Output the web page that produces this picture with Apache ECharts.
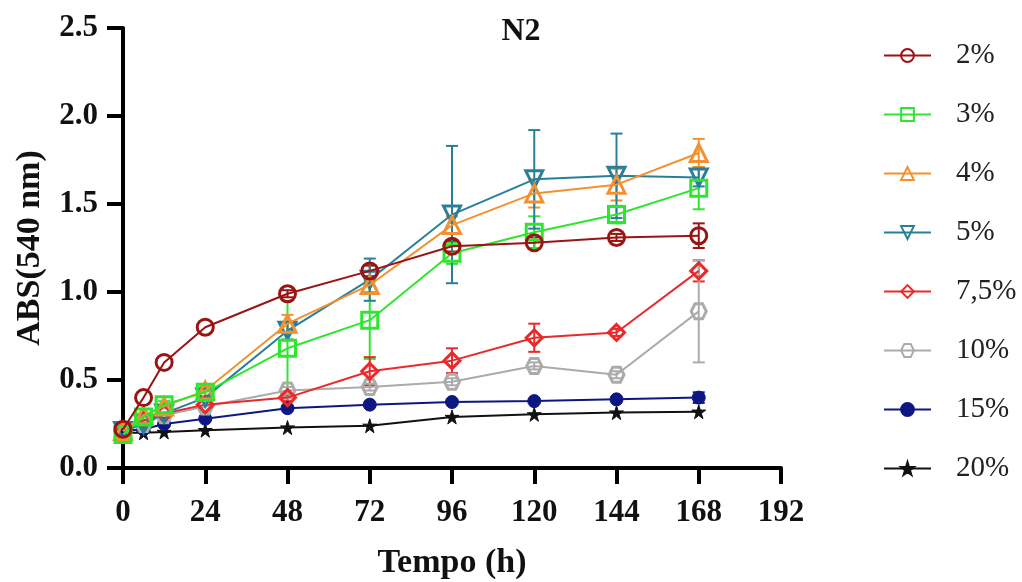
<!DOCTYPE html>
<html>
<head>
<meta charset="utf-8">
<script src="https://cdn.jsdelivr.net/npm/echarts@6/dist/echarts.min.js"></script>
<style>
  html, body { margin: 0; padding: 0; background: #fff; }
  #chart { width: 1022px; height: 582px; }
</style>
</head>
<body>
<div id="chart"></div>
<script>
// tiempos (h)
var times = [0, 6, 12, 24, 48, 72, 96, 120, 144, 168];
var xTicks = [0, 24, 48, 72, 96, 120, 144, 168, 192];

var names = ["2%", "3%", "4%", "5%", "7,5%", "10%", "15%", "20%"];

// medias
var v2 = [0.22, 0.40, 0.60, 0.80, 0.99, 1.12, 1.26, 1.28, 1.31, 1.32];
var v3 = [0.19, 0.29, 0.36, 0.43, 0.68, 0.84, 1.22, 1.34, 1.44, 1.59];
var v4 = [0.21, 0.30, 0.35, 0.44, 0.82, 1.04, 1.38, 1.56, 1.61, 1.79];
var v5 = [0.21, 0.25, 0.31, 0.40, 0.78, 1.07, 1.44, 1.64, 1.66, 1.65];
var v75 = [0.21, 0.27, 0.31, 0.36, 0.40, 0.55, 0.61, 0.74, 0.77, 1.12];
var v10 = [0.21, 0.25, 0.30, 0.35, 0.44, 0.46, 0.49, 0.58, 0.53, 0.89];
var v15 = [0.21, 0.22, 0.25, 0.28, 0.34, 0.36, 0.375, 0.38, 0.39, 0.40];
var v20 = [0.20, 0.20, 0.205, 0.215, 0.23, 0.24, 0.29, 0.305, 0.315, 0.32];

// desvios (barras de error)
var e2 = [0, 0, 0, 0, 0.02, 0.03, 0.03, 0.03, 0.02, 0.07];
var e3 = [0, 0.02, 0.02, 0.03, 0.27, 0.22, 0.06, 0.09, 0.05, 0.12];
var e4 = [0, 0, 0, 0.03, 0.05, 0.04, 0.05, 0.08, 0.09, 0.08];
var e5 = [0, 0, 0, 0, 0.05, 0.12, 0.39, 0.28, 0.24, 0.05];
var e75 = [0, 0, 0, 0, 0.02, 0.08, 0.07, 0.08, 0.02, 0.06];
var e10 = [0, 0, 0, 0, 0.02, 0.02, 0.02, 0.02, 0.02, 0.29];
var e15 = [0, 0, 0, 0, 0, 0, 0, 0, 0, 0.03];
var e20 = [0, 0, 0, 0, 0, 0, 0, 0, 0, 0];

var values = [v2, v3, v4, v5, v75, v10, v15, v20];
var errors = [e2, e3, e4, e5, e75, e10, e15, e20];
var colors = ["#9a1414", "#2ee62e", "#f39130", "#2a7f98", "#ea2a2a", "#ababab", "#0c1782", "#111111"];

var hexagon = "path://M5,0 L15,0 L20,8.66 L15,17.32 L5,17.32 L0,8.66 Z";
var downTri = "path://M0,0 L20,0 L10,17 Z";
var star = "path://M50,0 L61,35 L98,35 L68,57 L79,91 L50,70 L21,91 L32,57 L2,35 L39,35 Z";
var symbols = ["circle", "rect", "triangle", downTri, "diamond", hexagon, "circle", star];
var sizes = [16, 16, 17, 17, 16, 15, 13, 14];
var hollow = [true, true, true, true, true, true, false, false];

var font = "Liberation Serif";

function errData(vals, errs) {
  var out = [];
  for (var i = 0; i < times.length; i++) {
    if (errs[i] > 0) out.push([times[i], vals[i] - errs[i], vals[i] + errs[i]]);
  }
  return out;
}

function errRender(color) {
  return function (params, api) {
    var x = api.value(0);
    var top = api.coord([x, api.value(2)]);
    var bot = api.coord([x, api.value(1)]);
    var w = 6;
    var st = { stroke: color, lineWidth: 2 };
    return {
      type: "group",
      children: [
        { type: "line", shape: { x1: top[0], y1: top[1], x2: bot[0], y2: bot[1] }, style: st },
        { type: "line", shape: { x1: top[0] - w, y1: top[1], x2: top[0] + w, y2: top[1] }, style: st },
        { type: "line", shape: { x1: bot[0] - w, y1: bot[1], x2: bot[0] + w, y2: bot[1] }, style: st }
      ]
    };
  };
}

var series = [];
for (var k = 0; k < names.length; k++) {
  series.push({
    type: "custom",
    renderItem: errRender(colors[k]),
    data: errData(values[k], errors[k]),
    z: 2,
    silent: true
  });
}
for (var k = names.length - 1; k >= 0; k--) {
  series.push({
    name: names[k],
    type: "line",
    data: times.map(function (t, i) { return [t, values[k][i]]; }),
    symbol: symbols[k],
    symbolSize: sizes[k],
    showAllSymbol: true,
    lineStyle: { color: colors[k], width: 2 },
    itemStyle: hollow[k]
      ? { color: "rgba(255,255,255,0)", borderColor: colors[k], borderWidth: 3 }
      : { color: colors[k], borderColor: colors[k], borderWidth: 1 },
    z: 3 + (names.length - k)
  });
}

var chart = echarts.init(document.getElementById("chart"));
chart.setOption({
  animation: false,
  title: {
    text: "N2",
    left: 516,
    top: 11,
    textAlign: "center",
    textStyle: { fontFamily: font, fontWeight: "bold", fontSize: 32, color: "#111" }
  },
  legend: {
    data: names,
    orient: "vertical",
    left: 878,
    top: 36,
    itemWidth: 47,
    itemHeight: 16,
    itemGap: 30,
    textStyle: { fontFamily: font, fontSize: 29, color: "#222", lineHeight: 28, padding: [0, 0, 0, 20] }
  },
  grid: { left: 123, right: 241, top: 28, bottom: 114, outerBoundsMode: "none" },
  xAxis: {
    type: "value",
    min: xTicks[0],
    max: xTicks[xTicks.length - 1],
    interval: 24,
    name: "Tempo (h)",
    nameLocation: "middle",
    nameGap: 78,
    nameTextStyle: { fontFamily: font, fontWeight: "bold", fontSize: 34, color: "#111" },
    axisLine: { lineStyle: { color: "#000", width: 4 } },
    axisTick: { length: 16, lineStyle: { color: "#000", width: 4 } },
    axisLabel: { fontFamily: font, fontWeight: "bold", fontSize: 31, color: "#111", margin: 29 },
    splitLine: { show: false }
  },
  yAxis: {
    type: "value",
    min: 0,
    max: 2.5,
    interval: 0.5,
    name: "ABS(540 nm)",
    nameLocation: "middle",
    nameGap: 76,
    nameTextStyle: { fontFamily: font, fontWeight: "bold", fontSize: 34, color: "#111" },
    axisLine: { show: true, lineStyle: { color: "#000", width: 4 } },
    axisTick: { show: true, length: 16, lineStyle: { color: "#000", width: 4 } },
    axisLabel: {
      fontFamily: font, fontWeight: "bold", fontSize: 31, color: "#111", margin: 25,
      formatter: function (v) { return v.toFixed(1); }
    },
    splitLine: { show: false }
  },
  series: series
});
</script>
</body>
</html>
